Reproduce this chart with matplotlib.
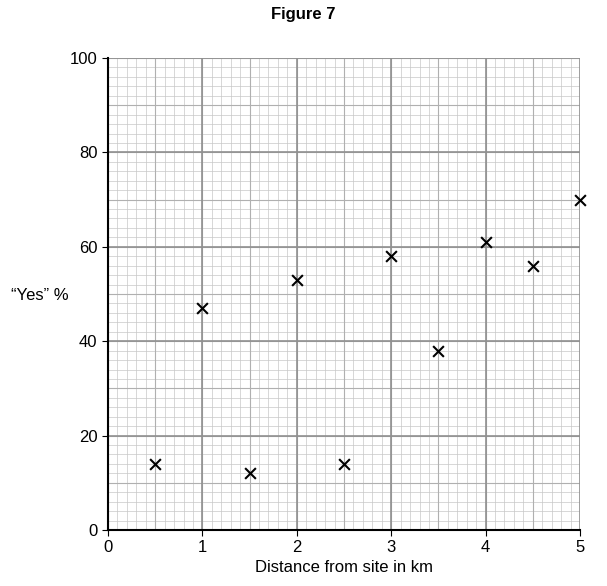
import matplotlib
matplotlib.use("Agg")
import matplotlib.pyplot as plt
import numpy as np

plt.rcParams['font.family'] = ['Liberation Sans', 'DejaVu Sans']

distance_km = [0.5, 1.0, 1.5, 2.0, 2.5, 3.0, 3.5, 4.0, 4.5, 5.0]
yes_pct = [14, 47, 12, 53, 14, 58, 38, 61, 56, 70]

fig = plt.figure(figsize=(6.07, 5.86), dpi=100)
ax = fig.add_axes([108/607, 56/586, 472/607, 472/586])
ax.set_xlim(0, 5)
ax.set_ylim(0, 100)
for x in np.arange(0, 5.01, 0.1):
    ax.axvline(x, color="#c8c8c8", lw=0.5, zorder=0)
for y in np.arange(0, 100.1, 2):
    ax.axhline(y, color="#c8c8c8", lw=0.5, zorder=0)
for x in np.arange(0, 5.01, 0.5):
    ax.axvline(x, color="#b0b0b0", lw=0.8, zorder=0)
for y in np.arange(0, 100.1, 10):
    ax.axhline(y, color="#b0b0b0", lw=0.8, zorder=0)
for x in range(6):
    ax.axvline(x, color="#909090", lw=1.2, zorder=0)
for y in range(0, 101, 20):
    ax.axhline(y, color="#909090", lw=1.2, zorder=0)
ax.scatter(distance_km, yes_pct, marker="x", s=60, color="black", linewidths=1.5, zorder=3, clip_on=False)
ax.set_xticks(range(6))
ax.set_yticks(range(0, 101, 20))
ax.tick_params(labelsize=12, length=4)
for side in ["top", "right"]:
    ax.spines[side].set_visible(False)
ax.spines["left"].set_linewidth(1.5)
ax.spines["bottom"].set_linewidth(1.5)
ax.set_xlabel("Distance from site in km", fontsize=12, labelpad=3)
fig.text(40/607, 1 - 295/586, "\u201cYes\u201d %", fontsize=12, ha="center", va="center")
fig.text(0.5, 1 - 15/586, "Figure 7", fontsize=12, fontweight="bold", ha="center", va="center")
fig.savefig("out.png", dpi=100)
